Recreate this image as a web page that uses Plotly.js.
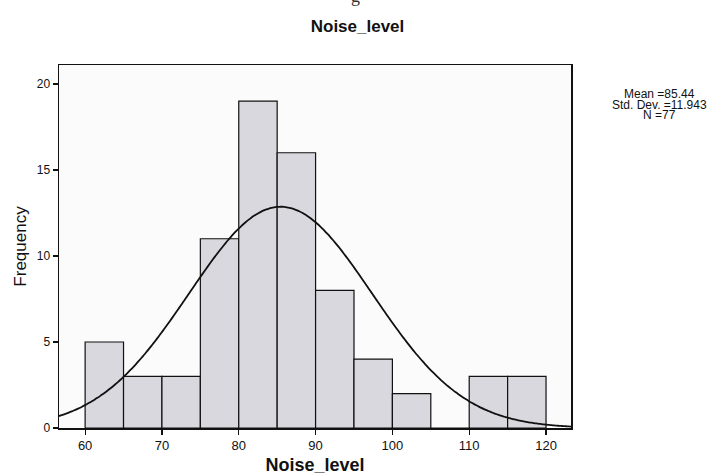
<!DOCTYPE html>
<html>
<head>
<meta charset="utf-8">
<script src="https://cdn.plot.ly/plotly-3.0.1.min.js"></script>
<style>html,body{margin:0;padding:0;background:#fff;}#chart{width:715px;height:476px;}</style>
</head>
<body>
<div id="chart"></div>
<script>
// Histogram bins (Noise_level), bin width 5
const binStarts = [60, 65, 70, 75, 80, 85, 90, 95, 100, 105, 110, 115];
const frequencies = [5, 3, 3, 11, 19, 16, 8, 4, 2, 0, 3, 3];
const binWidth = 5;
// Reported statistics
const meanValue = 85.44;
const stdDev = 11.943;
const nCount = 77;
const xTicks = [60, 70, 80, 90, 100, 110, 120];
const yTicks = [0, 5, 10, 15, 20];

const xRange = [56.6, 123.25];
const centers = binStarts.map(s => s + binWidth / 2);

// Fitted normal curve from the reported mean / std. dev. / N
const curveX = [];
const curveY = [];
const steps = 200;
for (let i = 0; i <= steps; i++) {
  const x = xRange[0] + (xRange[1] - xRange[0]) * i / steps;
  const z = (x - meanValue) / stdDev;
  curveX.push(x);
  curveY.push(nCount * binWidth / (stdDev * Math.sqrt(2 * Math.PI)) * Math.exp(-0.5 * z * z));
}

const traces = [
  {
    type: 'bar',
    x: centers,
    y: frequencies,
    width: binWidth,
    marker: { color: '#d8d8de', line: { color: '#111', width: 1.2 } },
    hoverinfo: 'x+y'
  },
  {
    type: 'scatter',
    mode: 'lines',
    x: curveX,
    y: curveY,
    line: { color: '#111', width: 1.8, shape: 'spline' },
    hoverinfo: 'skip'
  }
];

const font = 'Liberation Sans, Arial, sans-serif';
const legFont = { family: font, size: 12, color: '#111' };
const layout = {
  width: 715,
  height: 476,
  margin: { l: 59, r: 144, t: 65, b: 48 },
  paper_bgcolor: '#ffffff',
  plot_bgcolor: '#fbfbfb',
  showlegend: false,
  bargap: 0,
  font: { family: font, color: '#111', size: 12 },
  title: {
    text: '<b>Noise_level</b>',
    font: { family: font, size: 17, color: '#111' },
    x: 0.5, xanchor: 'center',
    y: 0.945, yanchor: 'middle'
  },
  xaxis: {
    range: xRange,
    tickvals: xTicks,
    ticktext: xTicks.map(String),
    ticks: 'outside', ticklen: 5, tickwidth: 1.2, tickcolor: '#111',
    showgrid: false, zeroline: false,
    showline: true, linecolor: '#111', linewidth: 1.5, mirror: true,
    tickfont: { family: font, size: 13, color: '#111' },
    title: { text: '<b>Noise_level</b>', font: { family: font, size: 18, color: '#111' }, standoff: 6 }
  },
  yaxis: {
    range: [0, 21.1],
    tickvals: yTicks,
    ticktext: yTicks.map(String),
    ticks: 'outside', ticklen: 5, tickwidth: 1.2, tickcolor: '#111',
    showgrid: false, zeroline: false,
    showline: true, linecolor: '#111', linewidth: 1.5, mirror: true,
    tickfont: { family: font, size: 12, color: '#111' },
    title: { text: 'Frequency', font: { family: font, size: 17, color: '#111' }, standoff: 6 }
  },
  annotations: [
    { text: 'Mean =' + meanValue.toFixed(2), xref: 'paper', yref: 'paper', x: 1.172, y: 0.921, xanchor: 'center', yanchor: 'middle', showarrow: false, font: legFont },
    { text: 'Std. Dev. =' + stdDev.toFixed(3), xref: 'paper', yref: 'paper', x: 1.172, y: 0.891, xanchor: 'center', yanchor: 'middle', showarrow: false, font: legFont },
    { text: 'N =' + nCount, xref: 'paper', yref: 'paper', x: 1.172, y: 0.861, xanchor: 'center', yanchor: 'middle', showarrow: false, font: legFont },
    { text: 'g', xref: 'paper', yref: 'paper', x: 0.58, y: 1.19, xanchor: 'center', yanchor: 'middle', showarrow: false, font: { family: 'Liberation Serif, serif', size: 18, color: '#333' } }
  ]
};

Plotly.newPlot('chart', traces, layout, { displayModeBar: false, staticPlot: true });
</script>
</body>
</html>
